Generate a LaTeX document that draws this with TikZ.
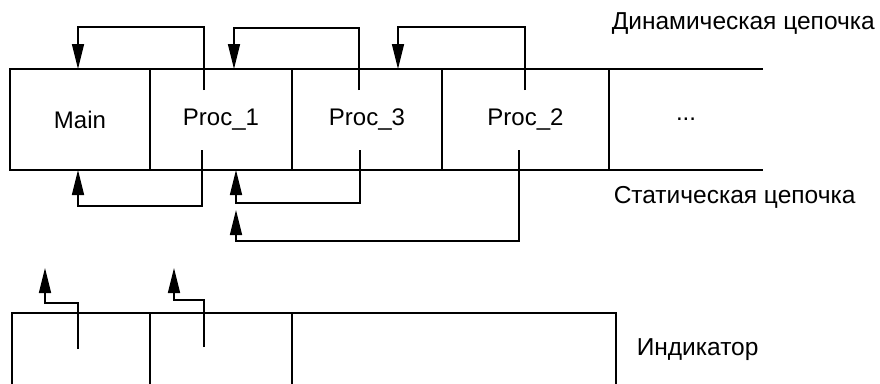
\documentclass[tikz,border=0pt]{standalone}
\usepackage{fontspec}
\setmainfont{Liberation Sans}
\usetikzlibrary{arrows.meta,positioning}

\begin{document}
\begin{tikzpicture}[x=1pt,y=-1pt,line width=1.5pt,
    cell/.style={draw,minimum height=101pt,inner sep=0pt,outer sep=0pt,
      font=\fontsize{24}{28}\selectfont},
    link/.style={-{Triangle[length=25pt,width=12pt]}},
    lbl/.style={anchor=base west,inner sep=0pt,font=\fontsize{24.5}{28}\selectfont}]
  \useasboundingbox (0,0) rectangle (880,383);
  \clip (0,0) rectangle (880,383);

  % stack of frames
  \node[cell,minimum width=140pt] (main) at (80,119.5) {Main};
  \node[cell,minimum width=142pt,right=0pt of main] (p1) {Proc\_1};
  \node[cell,minimum width=150pt,right=0pt of p1] (p3) {Proc\_3};
  \node[cell,minimum width=167pt,right=0pt of p3] (p2) {Proc\_2};
  \node[cell,draw=none,minimum width=154pt,right=0pt of p2] (dots) {...};
  \draw (dots.north west) -- (dots.north east) (dots.south west) -- (dots.south east);

  % dynamic chain
  \coordinate (d1) at (204,90);
  \coordinate (d3) at (359,90);
  \coordinate (d2) at (525,90);
  \draw[link] (d1) -- ++(0,-63) -| ([xshift=-2pt]main.north);
  \draw[link] (d3) -- ++(0,-62) -| ([xshift=13pt]p1.north);
  \draw[link] (d2) -- ++(0,-63) -| ([xshift=31pt]p3.north);

  % static chain
  \coordinate (s1) at (202,150);
  \coordinate (s3) at (360,150);
  \coordinate (s2) at (519,150);
  \coordinate (s2end) at (236,210);
  \draw[link] (s1) -- ++(0,56) -| ([xshift=-2pt]main.south);
  \draw[link] (s3) -- ++(0,53) -| ([xshift=15pt]p1.south);
  \draw[link] (s2) -- ++(0,91) -| (s2end);

  % display
  \node[cell,minimum width=138pt,anchor=north west] (ind1) at (12,313) {};
  \node[cell,minimum width=142pt,right=0pt of ind1] (ind2) {};
  \node[cell,minimum width=324pt,right=0pt of ind2] (ind3) {};
  \coordinate (i1) at (78,349);
  \coordinate (i2) at (204,347);
  \coordinate (t1) at (45,268);
  \coordinate (t2) at (174,268);
  \draw[link] (i1) -- ++(0,-46) -| (t1);
  \draw[link] (i2) -- ++(0,-47) -| (t2);

  \node[lbl] (dynlbl) at (611,29) {Динамическая цепочка};
  \node[lbl] (statlbl) at (613,203) {Статическая цепочка};
  \node[lbl] (indlbl) at (636,355) {Индикатор};
\end{tikzpicture}
\end{document}
